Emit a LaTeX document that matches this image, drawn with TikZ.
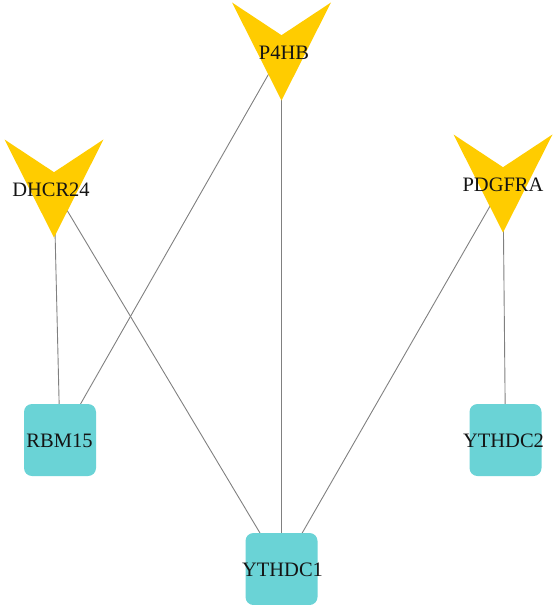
\documentclass[tikz,border=0pt]{standalone}
\usepackage{fontspec}
\setmainfont{Liberation Serif}
\usetikzlibrary{backgrounds}
\definecolor{gold}{RGB}{255,204,0}
\definecolor{tealbox}{RGB}{106,211,214}
\definecolor{edgegray}{RGB}{128,128,128}
\definecolor{ink}{RGB}{20,20,20}
\begin{document}
\begin{tikzpicture}[x=1pt,y=-1pt,
  lbl/.style={font=\fontsize{20.5}{21}\selectfont, text=ink, inner sep=0pt},
  link/.style={draw=edgegray, line width=0.9pt},
  vmark/.pic={\fill[gold] (-49.5,-49) -- (0,-16.3) -- (49.5,-49) -- (0,49) -- cycle;},
  squaremark/.pic={\fill[tealbox, rounded corners=8pt] (-36,-36) rectangle (36,36);}]
\useasboundingbox (0,0) rectangle (552,605);

% V-shaped nodes: centre points, shapes and labels
\coordinate (dhcr24) at (54,188.5);
\coordinate (p4hb) at (281.5,51.5);
\coordinate (pdgfra) at (503,183.5);
\pic at (dhcr24) {vmark};
\pic at (p4hb) {vmark};
\pic at (pdgfra) {vmark};
\node[lbl] (dhcr24-text) at (51,190) {DHCR24};
\node[lbl] (p4hb-text) at (284,53) {P4HB};
\node[lbl] (pdgfra-text) at (503,185) {PDGFRA};

% rounded square nodes; the labels may run past the box edges
\coordinate (rbm15) at (60,440);
\coordinate (ythdc1) at (281.5,569);
\coordinate (ythdc2) at (505.5,440);
\pic at (rbm15) {squaremark};
\pic at (ythdc1) {squaremark};
\pic at (ythdc2) {squaremark};
\node[lbl] (rbm15-text) at (59.5,441) {RBM15};
\node[lbl] (ythdc1-text) at (282.5,569.5) {YTHDC1};
\node[lbl] (ythdc2-text) at (503.5,441) {YTHDC2};

% connectors, kept behind the nodes
\begin{scope}[on background layer]
  \draw[link] (dhcr24) -- (rbm15);
  \draw[link] (dhcr24) -- (ythdc1);
  \draw[link] (p4hb) -- (rbm15);
  \draw[link] (p4hb) -- (ythdc1);
  \draw[link] (pdgfra) -- (ythdc1);
  \draw[link] (pdgfra) -- (ythdc2);
\end{scope}
\end{tikzpicture}
\end{document}
